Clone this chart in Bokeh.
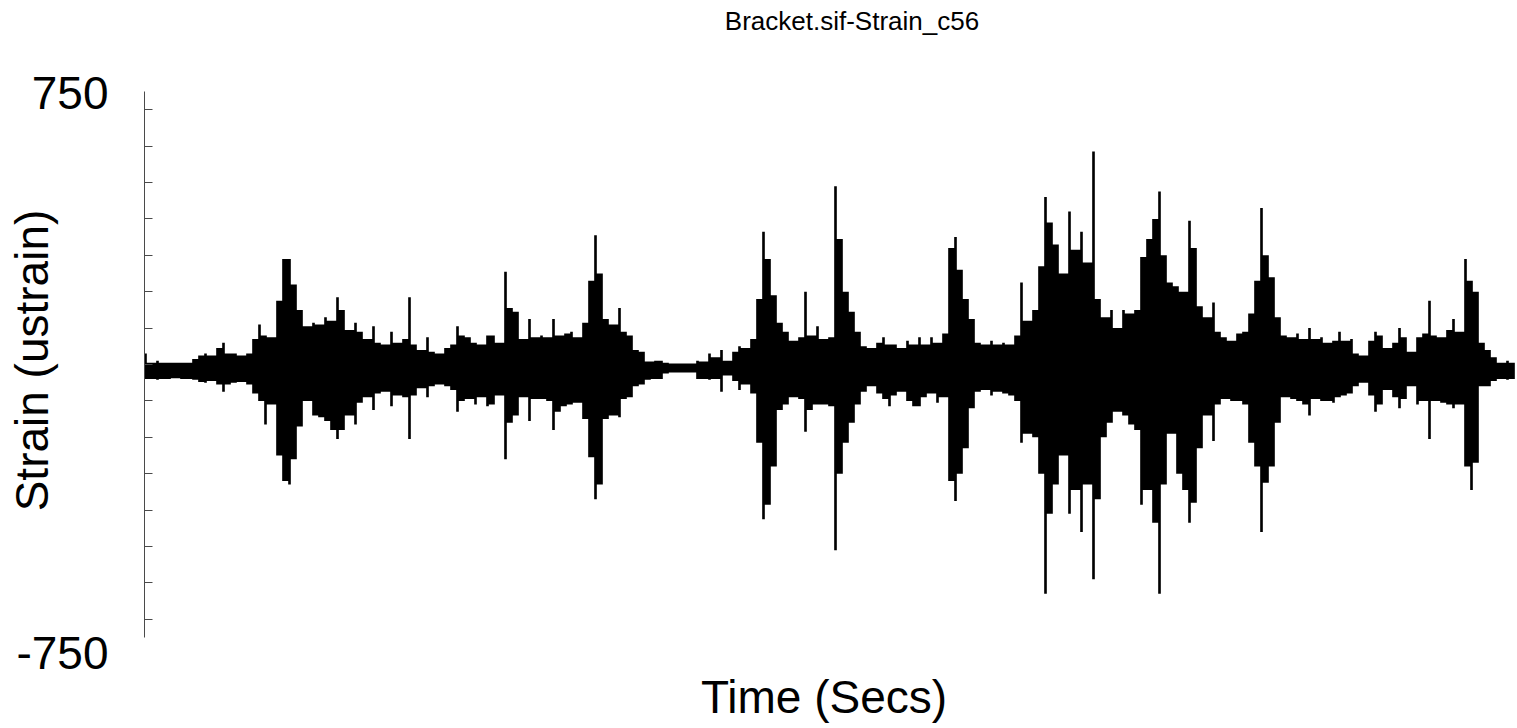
import numpy as np
from bokeh.plotting import figure
from bokeh.models import Range1d, FixedTicker, Label
from bokeh.embed import file_html
from bokeh.resources import INLINE

# ---- chart text -------------------------------------------------------------
title_text = "Bracket.sif-Strain_c56"
x_label = "Time (Secs)"
y_label = "Strain (ustrain)"
y_limits = (-750, 750)
y_minor_ticks = list(range(-700, 701, 100))

# ---- strain record, reduced to one positive peak and one negative trough
#      per 0.5 s bin (ustrain) --------------------------------------------------
dt = 0.5
peaks = [
    30, 5, 10, 5, 5, 5, 5, 5, 15, 25,
    30, 25, 45, 60, 30, 30, 25, 30, 70, 110,
    80, 75, 175, 290, 290, 220, 150, 105, 115, 110,
    130, 120, 185, 150, 95, 115, 90, 70, 105, 60,
    55, 90, 60, 70, 185, 55, 40, 75, 35, 30,
    45, 55, 105, 80, 75, 60, 55, 80, 80, 60,
    255, 155, 145, 70, 125, 75, 80, 75, 125, 80,
    85, 90, 75, 115, 230, 355, 250, 125, 110, 155,
    90, 80, 40, 35, 8, 10, 10, 5, 3, 3,
    3, 3, 10, 8, 30, 20, 40, 10, 35, 50,
    45, 70, 180, 365, 290, 190, 115, 90, 65, 75,
    200, 80, 105, 70, 75, 490, 345, 200, 145, 90,
    50, 45, 60, 75, 55, 55, 45, 65, 55, 75,
    55, 75, 60, 85, 320, 350, 260, 180, 125, 60,
    55, 65, 55, 60, 55, 80, 225, 120, 150, 270,
    460, 390, 330, 250, 420, 315, 365, 280, 585, 180,
    130, 150, 100, 150, 140, 150, 295, 345, 400, 475,
    300, 225, 215, 200, 395, 320, 160, 130, 170, 90,
    75, 65, 85, 90, 140, 230, 430, 300, 240, 130,
    80, 75, 85, 70, 100, 70, 75, 60, 65, 90,
    65, 70, 30, 25, 65, 90, 80, 45, 60, 100,
    75, 35, 75, 85, 175, 80, 75, 95, 125, 90,
    290, 230, 200, 60, 40, 20, 5, 10, 5,
]
troughs = [
    -40, -40, -42, -40, -40, -38, -40, -40, -42, -48,
    -50, -45, -55, -75, -55, -50, -48, -55, -80, -100,
    -165, -110, -250, -320, -330, -260, -170, -100, -140, -145,
    -155, -180, -205, -180, -140, -165, -105, -90, -125, -80,
    -75, -115, -85, -90, -205, -85, -65, -90, -60, -55,
    -60, -70, -130, -100, -95, -110, -90, -115, -110, -85,
    -260, -160, -140, -90, -155, -95, -95, -100, -180, -130,
    -115, -110, -105, -150, -255, -370, -330, -150, -140, -145,
    -95, -90, -60, -55, -42, -40, -40, -25, -22, -22,
    -22, -22, -40, -40, -42, -40, -75, -30, -45, -70,
    -55, -80, -215, -425, -385, -280, -125, -110, -90, -95,
    -185, -125, -110, -110, -115, -510, -300, -215, -160, -110,
    -75, -60, -80, -95, -115, -85, -75, -100, -115, -115,
    -90, -80, -105, -90, -320, -375, -300, -230, -120, -75,
    -70, -85, -75, -80, -85, -100, -215, -190, -200, -300,
    -630, -410, -330, -250, -410, -345, -460, -330, -590, -370,
    -200, -160, -130, -140, -165, -180, -385, -345, -435, -630,
    -330, -190, -300, -345, -435, -380, -230, -140, -210, -110,
    -95, -100, -100, -110, -215, -280, -460, -325, -280, -160,
    -90, -95, -100, -110, -140, -95, -100, -100, -105, -90,
    -85, -80, -60, -50, -85, -130, -110, -70, -90, -120,
    -95, -60, -110, -100, -205, -100, -105, -110, -120, -110,
    -280, -345, -270, -60, -60, -45, -40, -42, -40,
]

n = len(peaks)
t = np.arange(n) * dt
hi = np.asarray(peaks, dtype=float)
lo = np.asarray(troughs, dtype=float)

# Outline of the record: a narrow spike at every bin's extreme; the slot
# between two spikes is filled to the smaller of the two.
w = dt * 0.22
ex, eu, el = [], [], []
for i in range(n):
    ex += [t[i] - w, t[i] + w]
    eu += [hi[i], hi[i]]
    el += [lo[i], lo[i]]
    if i < n - 1:
        slot_hi = min(hi[i], hi[i + 1])
        slot_lo = max(lo[i], lo[i + 1])
        ex += [t[i] + w, t[i + 1] - w]
        eu += [slot_hi, slot_hi]
        el += [slot_lo, slot_lo]

# time span of the drawing area and the room left around it for the texts
x0 = t[0] - dt / 6          # where the strain axis stands
x1 = t[-1] + 2 * dt / 3
sec_per_px = (x1 - x0) / 1373
y_pad = (y_limits[1] - y_limits[0]) * 91 / 546

p = figure(
    width=1517, height=728,
    output_backend="svg", toolbar_location=None,
    x_range=Range1d(x0 - 144 * sec_per_px, x1),
    y_range=Range1d(y_limits[0] - y_pad, y_limits[1] + y_pad),
    x_axis_location=None,
    min_border_left=0, min_border_right=0,
    min_border_top=0, min_border_bottom=0,
)
p.grid.visible = False
p.outline_line_color = None
p.background_fill_color = "white"
p.border_fill_color = "white"

ax = p.yaxis[0]
ax.fixed_location = x0
ax.bounds = y_limits
ax.ticker = FixedTicker(ticks=[], minor_ticks=y_minor_ticks)
ax.axis_line_color = "#4a4a4a"
ax.axis_line_width = 1
ax.minor_tick_line_color = "#4a4a4a"
ax.minor_tick_in = 8
ax.minor_tick_out = 0
ax.major_tick_in = 0
ax.major_tick_out = 0
ax.major_label_text_font_size = "0px"

p.varea(x=ex, y1=el, y2=eu, fill_color="black")

FONT = "Liberation Sans"


def add_text(text, x, y, dx, dy, size, align="center", angle=0.0):
    p.add_layout(Label(
        x=x, y=y, x_offset=dx, y_offset=dy, text=text, angle=angle,
        text_font=FONT, text_font_size=size, text_color="black",
        text_align=align, text_baseline="alphabetic",
    ))


add_text(str(y_limits[1]), x0, y_limits[1], -36, -1.5, "46px", align="right")
add_text(str(y_limits[0]), x0, y_limits[0], -36, -15.5, "46px", align="right")
add_text(y_label, x0, 0, -113, 4, "46px", angle=np.pi / 2)
add_text(x_label, x0, y_limits[0], 679.5, -59.5, "46px")
add_text(title_text, x0, y_limits[1], 707.5, 70.5, "26px")

open("out.html", "w").write(file_html(p, INLINE))
